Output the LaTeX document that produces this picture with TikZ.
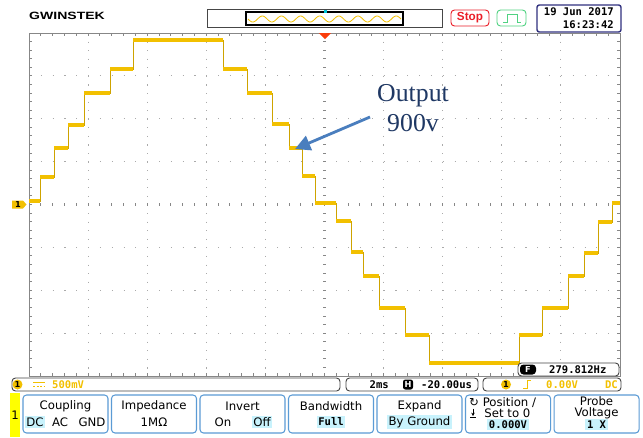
\documentclass[tikz,border=0pt]{standalone}
\usepackage{fontspec}
\usepackage{graphicx}
\setmainfont{DejaVu Sans}
\setmonofont{DejaVu Sans Mono}
\newfontfamily\calloutfont{Liberation Serif}
\newfontfamily\logofont{Liberation Sans}
\usetikzlibrary{arrows.meta}

\definecolor{tracegold}{RGB}{242,192,0}
\definecolor{gridgray}{RGB}{170,170,170}
\definecolor{axisgray}{RGB}{135,135,135}
\definecolor{btnblue}{RGB}{91,155,213}
\definecolor{hicyan}{RGB}{200,242,252}
\definecolor{arrowblue}{RGB}{74,126,190}
\definecolor{navytext}{RGB}{31,56,100}
\definecolor{barframe}{RGB}{70,70,70}
\definecolor{stopred}{RGB}{235,30,40}
\definecolor{rungreen}{RGB}{80,210,130}
\definecolor{chyellow}{RGB}{255,255,0}
\definecolor{trigred}{RGB}{250,60,10}
\definecolor{markcyan}{RGB}{0,200,220}

\tikzstyle{every node}=[font=\fontsize{10}{12}\selectfont, inner sep=0pt]
\tikzstyle{btn} = [rectangle, draw=btnblue, line width=0.9pt, rounded corners=3pt, minimum width=2.55cm, minimum height=1.14cm, node distance=2.655cm]
\tikzstyle{hilite} = [fill=hicyan, inner xsep=1.5pt, inner ysep=1.5pt]
\tikzstyle{mono} = [font=\ttfamily\bfseries\fontsize{9}{10}\selectfont]
\tikzstyle{twolines} = [align=center, font=\fontsize{10}{9.6}\selectfont]
\tikzstyle{bar} = [rectangle, draw=barframe, line width=0.8pt, rounded corners=3pt, minimum height=0.39cm]
\tikzstyle{plateau} = [draw=tracegold, line width=3.8pt]
\tikzstyle{edge} = [draw=tracegold!85!black, line width=0.8pt]
\tikzstyle{gridline} = [draw=gridgray, line width=1pt]
\tikzstyle{axis} = [draw=axisgray, line width=0.8pt]
\tikzstyle{pointer} = [draw=arrowblue, line width=2.4pt, -{Triangle[length=13pt, width=13pt]}]
\tikzstyle{chdot} = [circle, fill=tracegold, minimum size=0.3cm, font=\bfseries\fontsize{7}{8}\selectfont]
\tikzstyle{icon} = [fill=black, rounded corners=2pt, text=white, font=\bfseries\fontsize{7}{8}\selectfont]

\begin{document}
\begin{tikzpicture}[x=0.03cm, y=-0.03cm]
    \useasboundingbox (0,0) rectangle (643,437);
    \fill[white] (0,0) rectangle (643,437);
    % Grid
    \foreach \i in {1,2,3,4,6,7,8,9}
        \draw[gridline, dash pattern=on 0.9pt off 6.42pt] ({29+\i*59.1},33) -- ({29+\i*59.1},376);
    \foreach \j in {1,2,3,5,6,7}
        \draw[gridline, dash pattern=on 0.9pt off 9.19pt] (29,{33+\j*42.875}) -- (620,{33+\j*42.875});
    \foreach \i in {1,...,49} \draw[axis] ({29+\i*11.82},203) -- ++(0,3);
    \foreach \j in {1,...,39} \draw[axis] (323,{33+\j*8.575}) -- ++(3,0);
    % Border rulers
    \draw[axis] (29,376) -- (29,33) -- (620,33) -- (620,376) -- cycle;
    \foreach \i in {0,...,50} {
        \draw[axis] ({29+\i*11.82},33) -- ++(0,3);
        \draw[axis] ({29+\i*11.82},376) -- ++(0,-3);
    }
    \foreach \j in {0,...,40} {
        \draw[axis] (29,{33+\j*8.575}) -- ++(3,0);
        \draw[axis] (620,{33+\j*8.575}) -- ++(-3,0);
    }
    % Trace
    \draw[edge] (29,201) -| (40,177) -| (54,148) -| (68,125) -| (84,93) -| (110,69)
        -| (133,40) -| (223,69) -| (247,93) -| (272,124) -| (289,148) -| (302,176)
        -| (315,203) -| (336,221) -| (351,252) -| (363,276) -| (379,308) -| (405,335)
        -| (429,363) -| (519,335) -| (542,308) -| (568,276) -| (584,253) -| (598,222)
        -| (612,203) -- (620,203);
    \foreach \xa/\xb/\ya in {29/40/201, 40/54/177, 54/68/148, 68/84/125, 84/110/93,
        110/133/69, 133/223/40, 223/247/69, 247/272/93, 272/289/124, 289/302/148,
        302/315/176, 315/336/203, 336/351/221, 351/363/252, 363/379/276, 379/405/308,
        405/429/335, 429/519/363, 519/542/335, 542/568/308, 568/584/276, 584/598/253,
        598/612/222, 612/620/203}
        \draw[plateau] (\xa,\ya) -- (\xb,\ya);
    % Channel marker and trigger marker
    \fill[tracegold] (12,200.5) -- (23,200.5) -- (26.5,204.5) -- (23,208.5) -- (12,208.5) -- cycle;
    \node[font=\bfseries\fontsize{7}{8}\selectfont] (chmark) at (18,204.5) {1};
    \fill[trigred] (319,33) -- (331,33) -- (325,39) -- cycle;
    % Top bar
    \node[anchor=west, font=\logofont\bfseries\fontsize{9}{10}\selectfont] (logo) at (29,15.5) {\scalebox{1.33}[1]{GWINSTEK}};
    \node[rectangle, draw=barframe, line width=0.8pt, minimum width=7.05cm, minimum height=0.54cm] (overview) at (324.5,18) {};
    \node[rectangle, draw=black, line width=1.3pt, minimum width=4.71cm, minimum height=0.39cm] (window) at (324.5,18.5) {};
    \draw[tracegold, line width=0.7pt] plot[domain=248:401, samples=160] (\x, {19+3*sin((\x-248)/153*8*360)});
    \fill[markcyan] (323.5,9.5) rectangle (326.5,12.5);
    \node[rectangle, draw=stopred, line width=0.8pt, rounded corners=3pt, minimum width=1.14cm, minimum height=0.48cm, text=stopred, font=\logofont\bfseries\fontsize{10}{10}\selectfont] (stop) at (470,18) {Stop};
    \node[rectangle, draw=rungreen, line width=0.8pt, rounded corners=3pt, minimum width=0.87cm, minimum height=0.48cm] (trigmode) at (511.5,18) {};
    \draw[rungreen, line width=0.8pt] (503,22.5) -- (507,22.5) -- (507,14) -- (517,14) -- (517,22.5) -- (521,22.5);
    \node[rectangle, draw=barframe!70!blue, line width=1.2pt, rounded corners=2pt, minimum width=2.52cm, minimum height=0.81cm] (clock) at (579,18.5) {};
    \node[mono, anchor=east] (date) at (614,12) {19 Jun 2017};
    \node[mono, anchor=east] (time) at (614,25) {16:23:42};
    % Readouts
    \node[bar, fill=white, minimum width=3.03cm] (freqbox) at (568.5,369.5) {};
    \node[icon, minimum width=0.48cm, minimum height=0.3cm, rounded corners=3pt] (ficon) at (528,369.5) {F};
    \node[mono, anchor=west] (freq) at (549,369.5) {279.812Hz};
    \node[bar, minimum width=9.84cm] (vbar) at (176,384.5) {};
    \node[chdot] (ch1) at (17.5,384.5) {1};
    \draw[tracegold, line width=0.9pt] (33,382.5) -- (45,382.5);
    \draw[tracegold, line width=0.9pt, dash pattern=on 2pt off 1pt] (33,386.5) -- (45,386.5);
    \node[mono, text=tracegold, anchor=west] (volts) at (52,384.5) {500mV};
    \node[bar, minimum width=3.96cm] (tbar) at (412,384.5) {};
    \node[mono, anchor=east] (tdiv) at (389,384.5) {2ms};
    \node[icon, minimum size=0.3cm] (hicon) at (408,384.5) {H};
    \node[mono, anchor=west] (tpos) at (421,384.5) {-20.00us};
    \node[bar, minimum width=4.14cm] (trbar) at (552,384.5) {};
    \node[chdot] (ch1b) at (506,384.5) {1};
    \draw[tracegold, line width=0.8pt] (523,388.5) -- (527,388.5) -- (527,380.5) -- (531,380.5);
    \node[mono, text=tracegold, anchor=west] (trlev) at (546,384.5) {0.00V};
    \node[mono, text=tracegold, anchor=east] (trcpl) at (618,384.5) {DC};
    % Menu buttons
    \node[fill=chyellow, minimum width=0.3cm, minimum height=1.32cm] (chtab) at (15,415) {1};
    \node[btn] (coupling) at (65.5,414) {};
    \node[btn, right of=coupling] (impedance) {};
    \node[btn, right of=impedance] (invert) {};
    \node[btn, right of=invert] (bandwidth) {};
    \node[btn, right of=bandwidth] (expand) {};
    \node[btn, right of=expand] (position) {};
    \node[btn, right of=position] (probe) {};
    \node at ([shift={(0,-8)}]coupling.center) {Coupling};
    \node[hilite] at ([shift={(-30.5,8)}]coupling.center) {DC};
    \node at ([shift={(-5.5,8)}]coupling.center) {AC};
    \node at ([shift={(26.5,8)}]coupling.center) {GND};
    \node at ([shift={(0,-8)}]impedance.center) {Impedance};
    \node at ([shift={(0,8)}]impedance.center) {1MΩ};
    \node at ([shift={(0,-8)}]invert.center) {Invert};
    \node at ([shift={(-19.5,8)}]invert.center) {On};
    \node[hilite] at ([shift={(19.5,8)}]invert.center) {Off};
    \node at ([shift={(0,-8)}]bandwidth.center) {Bandwidth};
    \node[hilite, mono] at ([shift={(0,8)}]bandwidth.center) {Full};
    \node at ([shift={(0,-8)}]expand.center) {Expand};
    \node[hilite] at ([shift={(0,8)}]expand.center) {By Ground};
    \node[twolines, align=left, anchor=west] (poslabel) at (469,407.5) {↻ Position /\\\hspace*{1.3em}Set to 0};
    \draw[black, line width=0.7pt, -{Stealth[length=2.8pt, width=3pt]}] (473,408.5) -- (473,416);
    \draw[black, line width=0.8pt] (470,417) -- (476,417);
    \node[hilite, mono] at ([shift={(0,10.5)}]position.center) {0.000V};
    \node[twolines] (probelabel) at ([shift={(0,-6.5)}]probe.center) {Probe\\Voltage};
    \node[hilite, mono] at ([shift={(0,10.5)}]probe.center) {1 X};
    % Callout
    \node[font=\calloutfont\fontsize{22}{25.5}\selectfont, text=navytext, align=center] (callout) at (413,108) {Output\\900v};
    \coordinate (tail) at (370,117);
    \coordinate (tip) at (295,149);
    \draw[pointer] (tail) -- (tip);
\end{tikzpicture}
\end{document}
